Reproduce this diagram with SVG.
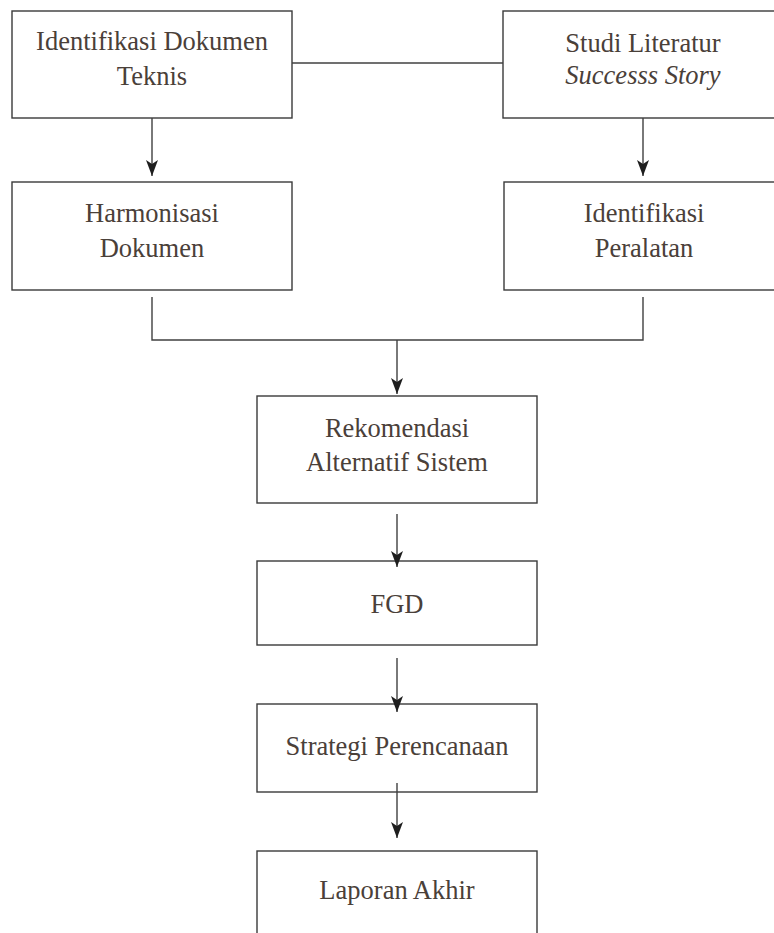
<svg xmlns="http://www.w3.org/2000/svg" width="774" height="933" viewBox="0 0 774 933">
<style>
.box{fill:#fff;stroke:#3a3a3a;stroke-width:1.4}
.t{font-family:'Liberation Serif','Times New Roman',serif;font-size:26.5px;fill:#4a4039;text-anchor:middle}
.i{font-style:italic}
.c{fill:none;stroke:#404040;stroke-width:1.4}
</style>
<defs>
<marker id="ah" markerUnits="userSpaceOnUse" markerWidth="17" markerHeight="14" viewBox="0 -7 17 14" refX="16" refY="0" orient="auto">
<path d="M0,-6 L16,0 L0,6 L4,0 Z" fill="#1e1e1e"/>
</marker>
</defs>
<rect width="774" height="933" fill="#fff"/>
<g id="n1">
<rect class="box" x="12" y="11" width="280" height="107"/>
<text class="t" x="152" y="50">Identifikasi Dokumen</text>
<text class="t" x="152" y="85">Teknis</text>
</g>
<g id="n2">
<rect class="box" x="503" y="11" width="290" height="107"/>
<text class="t" x="643" y="52">Studi Literatur</text>
<text class="t i" x="643" y="84">Successs Story</text>
</g>
<g id="n3">
<rect class="box" x="12" y="182" width="280" height="108"/>
<text class="t" x="152" y="222">Harmonisasi</text>
<text class="t" x="152" y="257">Dokumen</text>
</g>
<g id="n4">
<rect class="box" x="504" y="182" width="290" height="108"/>
<text class="t" x="644" y="222">Identifikasi</text>
<text class="t" x="644" y="257">Peralatan</text>
</g>
<g id="n5">
<rect class="box" x="257" y="396" width="280" height="107"/>
<text class="t" x="397" y="437">Rekomendasi</text>
<text class="t" x="397" y="471">Alternatif Sistem</text>
</g>
<g id="n6">
<rect class="box" x="257" y="561" width="280" height="84"/>
<text class="t" x="397" y="613">FGD</text>
</g>
<g id="n7">
<rect class="box" x="257" y="704" width="280" height="88"/>
<text class="t" x="397" y="755">Strategi Perencanaan</text>
</g>
<g id="n8">
<rect class="box" x="257" y="851" width="280" height="100"/>
<text class="t" x="397" y="899">Laporan Akhir</text>
</g>
<g id="connectors">
<line class="c" x1="292" y1="63" x2="503" y2="63"/>
<line class="c" x1="152" y1="118" x2="152" y2="176" marker-end="url(#ah)"/>
<line class="c" x1="643" y1="118" x2="643" y2="176" marker-end="url(#ah)"/>
<polyline class="c" points="152,297 152,340 643,340 643,297"/>
<line class="c" x1="397" y1="340" x2="397" y2="394" marker-end="url(#ah)"/>
<line class="c" x1="397" y1="514" x2="397" y2="567" marker-end="url(#ah)"/>
<line class="c" x1="397" y1="658" x2="397" y2="712" marker-end="url(#ah)"/>
<line class="c" x1="397" y1="783" x2="397" y2="838" marker-end="url(#ah)"/>
</g>
</svg>
